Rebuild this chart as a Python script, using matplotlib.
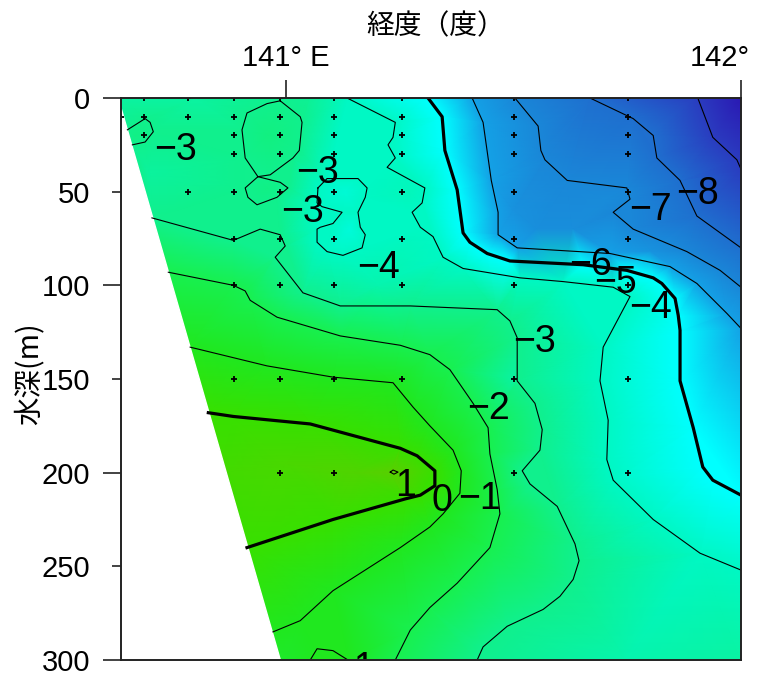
import matplotlib
matplotlib.use('Agg')
import matplotlib.pyplot as plt
from matplotlib.colors import LinearSegmentedColormap
from matplotlib.transforms import ScaledTranslation
from matplotlib.tri import Triangulation
import numpy as np

LON_MIN = 140.637
LON_MAX = 142.0
DEPTH_MAX = 300

# isotherms (lon, depth)
t_1_lon = [141.229, 141.235, 141.246, 141.237, 141.229]
t_1_depth = [199.7, 198.6, 199.7, 200.8, 199.7]

t0_lon = [140.829, 140.884, 141.053, 141.251, 141.288, 141.327, 141.327, 141.295, 141.262, 141.103, 140.914]
t0_depth = [168, 170, 174, 187, 191, 199, 207, 212, 214, 225, 240]

tm1_lon = [140.789, 140.958, 141.103, 141.235, 141.279, 141.316, 141.367, 141.385, 141.382, 141.345, 141.316, 141.251, 141.103, 141.031, 140.971]
tm1_depth = [133, 143, 149, 152, 165, 175, 188, 199, 211, 222, 229, 240, 263, 279, 285]
tm1b_lon = [141.053, 141.068, 141.103, 141.136]
tm1b_depth = [300, 294, 295, 300]

tm2_lon = [140.741, 140.884, 140.910, 140.921, 140.980, 141.119, 141.251, 141.316, 141.360, 141.411, 141.444, 141.448, 141.464, 141.470, 141.448, 141.376, 141.316, 141.273, 141.240]
tm2_depth = [93, 100, 103, 108, 117, 127, 132, 137, 145, 163, 176, 190, 209, 222, 240, 259, 272, 284, 300]

tm3_lon = [140.705, 140.884, 140.943, 140.987, 140.998, 140.976, 141.037, 141.119, 141.273, 141.464, 141.492, 141.508, 141.508, 141.547, 141.563, 141.558, 141.519, 141.536, 141.596, 141.635, 141.644, 141.631, 141.602, 141.565, 141.486, 141.433, 141.420]
tm3_depth = [64, 76, 70, 73, 79, 85, 104, 111, 111, 113, 119, 128, 151, 163, 177, 188, 199, 206, 218, 238, 247, 257, 266, 273, 282, 293, 300]
tm3b_lon = [140.987, 141.031, 141.035, 141.029, 141.015, 140.965, 140.938, 140.910, 140.903, 140.914, 140.958, 140.987]
tm3b_depth = [1.5, 10, 13, 28, 32, 41, 42, 32, 17, 8, 3, 1.5]
tm3c_lon = [140.938, 140.987, 141.004, 140.980, 140.936, 140.916, 140.910, 140.938]
tm3c_depth = [42, 45, 48, 53, 57, 53, 48, 42]
tm3d_lon = [140.651, 140.690, 140.701, 140.708, 140.690, 140.662]
tm3d_depth = [17, 11, 13, 18, 23.5, 25]

tm4_lon = [141.134, 141.240, 141.235, 141.224, 141.240, 141.222, 141.305, 141.299, 141.277, 141.295, 141.323, 141.345, 141.389, 141.514, 141.609, 141.719, 141.756, 141.697, 141.690, 141.708, 141.705, 141.719, 141.807, 141.910, 142.0]
tm4_depth = [0, 13, 21, 25, 32, 37, 48, 56, 61, 69, 74, 85, 91, 96, 98, 101, 106, 133, 151, 172, 193, 204, 225, 243, 252]
tm4b_lon = [141.070, 141.090, 141.158, 141.178, 141.174, 141.158, 141.163, 141.174, 141.167, 141.125, 141.090, 141.068, 141.068, 141.075, 141.103, 141.123, 141.079, 141.068, 141.070]
tm4b_depth = [48, 43, 43, 48, 53, 61, 69, 73, 80, 84, 82, 77, 70, 69, 67, 61, 58, 56, 48]

tm5_lon = [141.312, 141.343, 141.349, 141.376, 141.389, 141.404, 141.442, 141.492, 141.653, 141.749, 141.807, 141.826, 141.855, 141.862, 141.866, 141.866, 141.895, 141.916, 141.938, 142.0]
tm5_depth = [0, 10, 28, 49, 72, 77, 83, 87, 89, 92, 96, 99, 107, 116, 124, 151, 176, 197, 204, 212]

tm6_lon = [141.409, 141.433, 141.451, 141.466, 141.466, 141.508, 141.712, 141.844, 141.903, 141.969, 142.0]
tm6_depth = [0, 13, 44, 61, 73, 80, 83, 90, 99, 115, 123]

tm7_lon = [141.503, 141.554, 141.560, 141.569, 141.618, 141.749, 141.756, 141.719, 141.763, 141.881, 141.954, 142.0]
tm7_depth = [0, 15, 28, 33, 44, 48, 54, 61, 70, 82, 92, 101]

tm8_lon = [141.668, 141.763, 141.807, 141.815, 141.866, 141.903, 142.0]
tm8_depth = [0, 11, 20, 32, 44, 63, 80]

tm9_lon = [141.905, 141.938, 141.991, 142.0]
tm9_depth = [0, 21, 33, 38]

isotherms = [
    (1, t_1_lon, t_1_depth),
    (0, t0_lon, t0_depth),
    (-1, tm1_lon, tm1_depth),
    (-1, tm1b_lon, tm1b_depth),
    (-2, tm2_lon, tm2_depth),
    (-3, tm3_lon, tm3_depth),
    (-3, tm3b_lon, tm3b_depth),
    (-3, tm3c_lon, tm3c_depth),
    (-3, tm3d_lon, tm3d_depth),
    (-4, tm4_lon, tm4_depth),
    (-4, tm4b_lon, tm4b_depth),
    (-5, tm5_lon, tm5_depth),
    (-6, tm6_lon, tm6_depth),
    (-7, tm7_lon, tm7_depth),
    (-8, tm8_lon, tm8_depth),
    (-9, tm9_lon, tm9_depth),
]

# spot temperatures away from the isotherms (corners, centres of the closed loops,
# and the flat blue area between -6 and -7)
spot_lon = [140.637, 142.0, 142.0, 140.637, 140.987, 141.05, 140.8, 140.7, 140.96, 140.96, 140.67, 141.14, 141.13, 141.27, 141.2, 141.5, 141.75, 141.0, 141.15, 140.85, 141.09, 141.0, 141.5, 141.55, 141.63, 141.7, 141.8]
spot_depth = [0, 0, 300, 300, 300, 0, 0, 40, 20, 48, 20, 70, 50, 50, 100, 150, 300, 195, 200, 200, 300, 300, 60, 70, 70, 55, 82]
spot_temp = [-3.4, -9.8, -3.4, 0.0, -1.2, -3.2, -3.4, -3.3, -2.8, -2.9, -2.9, -4.4, -4.3, -3.85, -3.6, -3.4, -3.6, 0.5, 0.7, 0.3, -0.9, -1.2, -6.6, -6.7, -6.75, -6.85, -6.5]

# sea floor line, everything under it stays white
floor_lon = [LON_MIN, LON_MIN, 140.987]
floor_depth = [6, DEPTH_MAX, DEPTH_MAX]

# CTD stations
station_lon = [140.637, 140.688, 140.785, 140.886, 140.987, 141.105, 141.255, 141.501, 141.752]
station_depths = [
    [10],
    [0, 10, 20],
    [0, 10, 50],
    [0, 10, 20, 30, 50, 75, 100, 150],
    [0, 10, 20, 30, 50, 75, 100, 150, 200],
    [0, 10, 20, 30, 50, 75, 100, 150, 200],
    [0, 10, 20, 30, 50, 75, 100, 150],
    [0, 10, 20, 30, 50, 75, 100, 150, 200],
    [0, 10, 20, 30, 50, 75, 100, 150, 200],
]

label_text = ['−3', '−3', '−3', '−4', '−3', '−2', '−1', '0', '1', '−6', '−5', '−4', '−7', '−8', '−1']
label_lon = [140.756, 141.070, 141.037, 141.202, 141.547, 141.444, 141.426, 141.343, 141.262, 141.670, 141.725, 141.802, 141.802, 141.905, 141.149]
label_depth = [28, 40, 61, 91, 130, 166, 214, 215, 207, 89, 99, 112, 60, 51, 305]

y_ticks = [0, 50, 100, 150, 200, 250, 300]
x_ticks = [141, 142]
x_tick_labels = ['141° E', '142°']

color_levels = [-10, -9, -8, -7, -6, -5, -4, -3, -2, -1, 0, 1]
color_values = ['#2a10b0', '#2a3cc0', '#1f70cf', '#1a88d8', '#14a0e6', '#00ffff', '#00f8c4', '#10f08c', '#18f050', '#20e820', '#38e000', '#58d000']

num_font = ['Liberation Sans']
cjk_font = ['Noto Sans CJK JP', 'DejaVu Sans']

fig = plt.figure(figsize=(7.6, 6.75), dpi=100)
ax = fig.add_axes([121 / 760, 15 / 675, 620 / 760, 562 / 675])

all_lon = list(spot_lon)
all_depth = list(spot_depth)
all_temp = list(spot_temp)
for level, lons, depths in isotherms:
    all_lon += lons
    all_depth += depths
    all_temp += [level] * len(lons)
all_lon = np.array(all_lon)
all_depth = np.array(all_depth, dtype=float)
all_temp = np.array(all_temp, dtype=float)

# delaunay on the on-screen aspect, lon and depth have very different ranges
screen = Triangulation(all_lon * 455, all_depth * 1.873)
tri = Triangulation(all_lon, all_depth, screen.triangles)

span = color_levels[-1] - color_levels[0]
cmap = LinearSegmentedColormap.from_list('section', [((v - color_levels[0]) / span, c) for v, c in zip(color_levels, color_values)])
ax.tripcolor(tri, all_temp, shading='gouraud', cmap=cmap, vmin=color_levels[0], vmax=color_levels[-1])

ax.fill(floor_lon, floor_depth, color='white', zorder=2)

for level, lons, depths in isotherms:
    if level in (0, -5):
        width = 2.3
    else:
        width = 0.8
    ax.plot(lons, depths, color='black', lw=width, zorder=3)

for lon, depths in zip(station_lon, station_depths):
    ax.plot([lon] * len(depths), depths, '+', color='black', ms=4.5, mew=1.3, zorder=4)

for txt, lon, depth in zip(label_text, label_lon, label_depth):
    ax.text(lon, depth, txt, fontsize=27, family=num_font, ha='center', va='center', zorder=5, clip_on=True)

ax.set_xlim(LON_MIN, LON_MAX)
ax.set_ylim(DEPTH_MAX, 0)
ax.xaxis.tick_top()
ax.set_xticks(x_ticks)
ax.set_xticklabels(x_tick_labels, fontsize=21, family=num_font)
ax.set_yticks(y_ticks)
ax.set_yticklabels([str(v) for v in y_ticks], fontsize=21, family=num_font)
ax.tick_params(axis='x', length=13, width=1.2, pad=5.5, color='#222222')
ax.tick_params(axis='y', length=13, width=1.2, pad=9, color='#222222')
for tick in ax.yaxis.get_major_ticks()[1::2]:
    tick.tick1line.set_markersize(6.5)

# the last label is pulled back so it stays on the page
last = ax.get_xticklabels()[1]
last.set_ha('right')
last.set_transform(last.get_transform() + ScaledTranslation(9 / 100, 0, fig.dpi_scale_trans))

for side in ['left', 'right', 'top', 'bottom']:
    ax.spines[side].set_linewidth(1.4)
    ax.spines[side].set_color('#222222')
    ax.spines[side].set_zorder(6)

fig.text(436 / 760, 1 - 26 / 675, '経度（度）', fontsize=20, family=cjk_font, ha='center', va='center')
fig.text(30 / 760, 1 - 374 / 675, '水深(m)', fontsize=20.5, family=cjk_font, rotation=90, ha='center', va='center')

fig.savefig('out.png', dpi=100)
